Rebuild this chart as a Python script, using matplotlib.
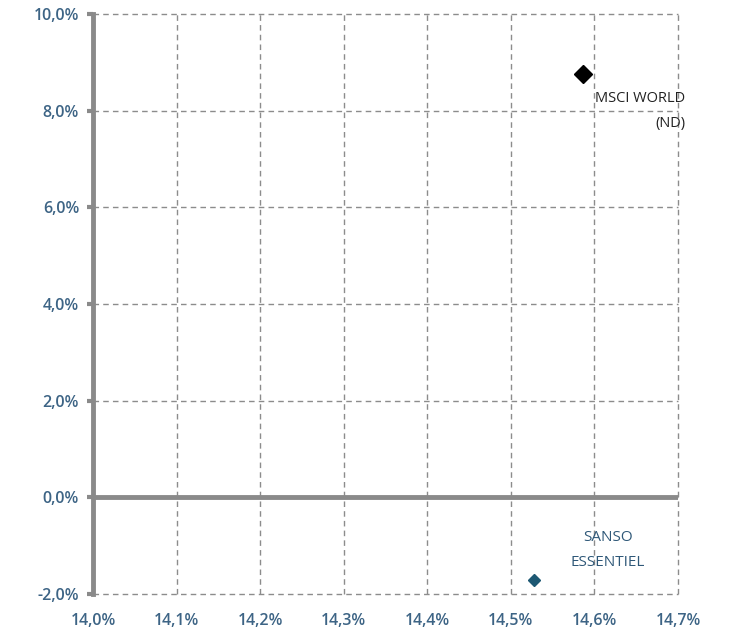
import matplotlib.pyplot as plt
from matplotlib.ticker import FuncFormatter

# data (volatilite, performance) in %
names = ['MSCI WORLD\n(ND)', 'SANSO\nESSENTIEL']
vol = [14.586, 14.528]
perf = [8.76, -1.71]
colors = ['black', '#1d5873']
sizes = [9, 6]
label_colors = ['#222222', '#2f5878']

xticks = [14.0, 14.1, 14.2, 14.3, 14.4, 14.5, 14.6, 14.7]
yticks = [-2, 0, 2, 4, 6, 8, 10]

plt.rcParams['font.family'] = ['Open Sans', 'DejaVu Sans']

fig = plt.figure(figsize=(7.3, 6.41), dpi=100)
ax = fig.add_axes([0.1274, 0.0733, 0.8014, 0.9047])

ax.set_xlim(14.0, 14.7)
ax.set_ylim(-2, 10)
ax.set_xticks(xticks)
ax.set_yticks(yticks)

fmt = lambda v, p: ('%.1f%%' % v).replace('.', ',')
ax.xaxis.set_major_formatter(FuncFormatter(fmt))
ax.yaxis.set_major_formatter(FuncFormatter(fmt))

ax.grid(True, color='#8c8c8c', linestyle=(0, (4, 3)), linewidth=1)
ax.set_axisbelow(True)
for g in ax.get_xgridlines() + ax.get_ygridlines():
    g.set_clip_on(False)

for s in ['top', 'right', 'bottom']:
    ax.spines[s].set_visible(False)
ax.spines['left'].set_color('#8a8a8a')
ax.spines['left'].set_linewidth(3.5)
ax.axhline(0, color='#8a8a8a', linewidth=3.5, zorder=2)

ax.tick_params(axis='y', length=4, width=3, color='#8a8a8a', pad=6,
               labelsize=11.5, labelcolor='#3d6485')
ax.tick_params(axis='x', length=0, pad=14, labelsize=11.5, labelcolor='#3d6485')
for lab in ax.get_xticklabels() + ax.get_yticklabels():
    lab.set_fontweight('semibold')

for i in range(len(names)):
    ax.plot(vol[i], perf[i], marker='D', color=colors[i], markersize=sizes[i],
            linestyle='none', zorder=3)

ax.text(vol[0] + 0.123, perf[0] - 0.36, names[0], ha='right', va='top',
        fontsize=10.5, color=label_colors[0], linespacing=1.9)
ax.text(vol[1] + 0.088, perf[1] + 0.2, names[1], ha='center', va='bottom',
        fontsize=11, color=label_colors[1], linespacing=1.9)

fig.savefig('out.png', dpi=100)
